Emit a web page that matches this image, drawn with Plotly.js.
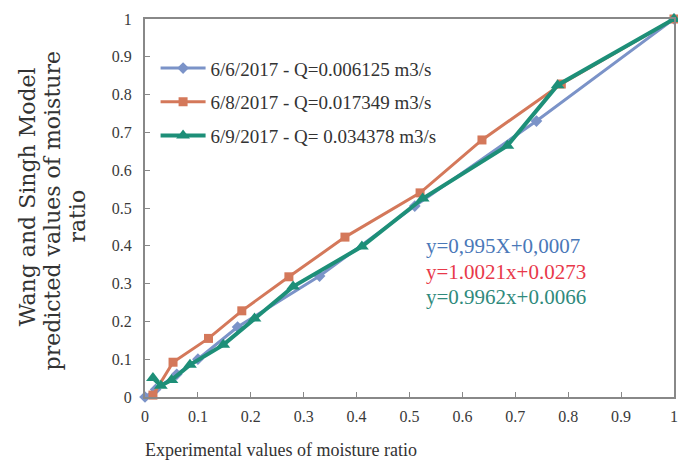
<!DOCTYPE html>
<html>
<head>
<meta charset="utf-8">
<script src="https://cdn.plot.ly/plotly-3.0.1.min.js"></script>
<style>
  html, body { margin: 0; padding: 0; background: #fff; }
  #chart { width: 678px; height: 464px; }
</style>
</head>
<body>
<div id="chart"></div>
<script>
// Experimental vs. predicted moisture ratio (Wang and Singh model)
const seriesNames = [
  "6/6/2017 - Q=0.006125 m3/s",
  "6/8/2017 - Q=0.017349 m3/s",
  "6/9/2017 - Q= 0.034378 m3/s"
];

const expJun6 = [0.0, 0.02, 0.06, 0.10, 0.175, 0.33, 0.51, 0.74, 1.0];
const predJun6 = [0.0, 0.02, 0.06, 0.10, 0.185, 0.32, 0.505, 0.73, 1.0];

const expJun8 = [0.015, 0.053, 0.12, 0.183, 0.272, 0.378, 0.52, 0.637, 0.787, 1.0];
const predJun8 = [0.005, 0.092, 0.155, 0.228, 0.318, 0.423, 0.54, 0.68, 0.828, 1.0];

const expJun9 = [0.015, 0.03, 0.05, 0.085, 0.148, 0.207, 0.28, 0.41, 0.525, 0.685, 0.78, 1.0];
const predJun9 = [0.05, 0.03, 0.045, 0.085, 0.138, 0.208, 0.292, 0.398, 0.525, 0.665, 0.825, 1.0];

const tickVals = [0, 0.1, 0.2, 0.3, 0.4, 0.5, 0.6, 0.7, 0.8, 0.9, 1];
const tickText = ["0", "0.1", "0.2", "0.3", "0.4", "0.5", "0.6", "0.7", "0.8", "0.9", "1"];

const equations = [
  "y=0,995X+0,0007",
  "y=1.0021x+0.0273",
  "y=0.9962x+0.0066"
];

const yTitleLines = ["Wang and Singh Model", "predicted values of moisture", "ratio"];
const xTitle = "Experimental values of moisture ratio";

const serif = "Liberation Serif, DejaVu Serif, serif";
const wideSerif = "DejaVu Serif, Liberation Serif, serif";
const colBlue = "#7b93c8";
const colOrange = "#d4785a";
const colGreen = "#1d8f78";

const traces = [
  {
    x: expJun6, y: predJun6, name: seriesNames[0], legendgroup: "a",
    mode: "lines+markers", cliponaxis: false,
    line: { color: colBlue, width: 3 },
    marker: { symbol: "diamond", size: 9, color: colBlue }
  },
  {
    x: expJun8, y: predJun8, name: seriesNames[1], legendgroup: "b",
    mode: "lines+markers", cliponaxis: false,
    line: { color: colOrange, width: 3 },
    marker: { symbol: "square", size: 9, color: colOrange }
  },
  {
    x: expJun9, y: predJun9, name: seriesNames[2], legendgroup: "c",
    mode: "lines+markers", cliponaxis: false,
    line: { color: colGreen, width: 4 },
    marker: { symbol: "triangle-up", size: 12, color: colGreen }
  }
];

const axisCommon = {
  range: [0, 1],
  showgrid: false,
  zeroline: false,
  showline: true,
  mirror: true,
  linecolor: "#888",
  linewidth: 2,
  ticks: "inside",
  ticklen: 5,
  tickwidth: 1,
  tickcolor: "#888",
  tickvals: tickVals,
  ticktext: tickText,
  ticklabeloverflow: "allow",
  tickfont: { family: serif, size: 16, color: "#3a3a3a" },
  fixedrange: true
};

// y-axis title drawn as three rotated lines, left to right
const yTitleX = [-0.222, -0.175, -0.128];
const yTitleY = [0.53, 0.492, 0.478];
const yTitleAnn = yTitleLines.map((t, i) => ({
  xref: "paper", yref: "paper", x: yTitleX[i], y: yTitleY[i],
  xanchor: "center", yanchor: "middle",
  text: t, textangle: -90, showarrow: false,
  font: { family: wideSerif, size: 22, color: "#333" }
}));

const eqColors = ["#4a78b8", "#e8394a", "#2f8a7c"];
const eqY = [0.4, 0.332, 0.264];
const eqAnn = equations.map((t, i) => ({
  xref: "paper", yref: "paper", x: 0.527, y: eqY[i],
  xanchor: "left", yanchor: "middle", showarrow: false,
  text: t, font: { family: serif, size: 21, color: eqColors[i] }
}));

const layout = {
  width: 678,
  height: 464,
  margin: { l: 145, r: 4, t: 19, b: 67 },
  paper_bgcolor: "#fff",
  plot_bgcolor: "#fff",
  showlegend: true,
  legend: {
    x: 0.02, y: 0.92, xanchor: "left", yanchor: "top",
    bgcolor: "rgba(0,0,0,0)",
    font: { family: serif, size: 19, color: "#333" },
    traceorder: "grouped",
    tracegroupgap: 6,
    itemwidth: 45
  },
  xaxis: Object.assign({}, axisCommon, { ticklabelstandoff: 4 }),
  yaxis: Object.assign({}, axisCommon, { ticklabelstandoff: 8 }),
  annotations: yTitleAnn.concat([
    {
      xref: "paper", yref: "paper", x: 0.258, y: -0.108,
      xanchor: "center", yanchor: "top",
      text: xTitle, showarrow: false,
      font: { family: serif, size: 18, color: "#333" }
    }
  ], eqAnn)
};

Plotly.newPlot("chart", traces, layout, { displayModeBar: false, staticPlot: true });
</script>
</body>
</html>
